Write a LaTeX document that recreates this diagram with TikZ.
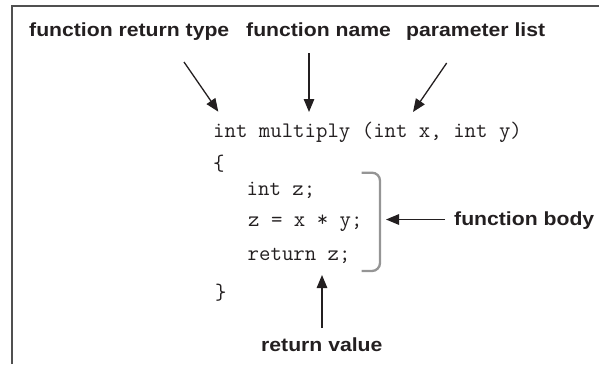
\documentclass[tikz,border=0pt]{standalone}
\usepackage{fontspec}
\setmainfont{Liberation Sans}
\usetikzlibrary{arrows.meta}
\definecolor{ink}{HTML}{231F20}
\definecolor{framegray}{HTML}{505050}
\definecolor{bracegray}{HTML}{959595}
\newcommand{\lbltext}[1]{\scalebox{1.115}[1]{#1}}
\tikzset{
  lbl/.style={inner sep=0pt, anchor=base west, text=ink,
    font=\fontsize{19}{22}\selectfont\bfseries},
  codeline/.style={inner sep=0pt, anchor=base west, text=ink,
    font=\fontsize{22.2}{26}\selectfont\ttfamily},
  pointer/.style={draw=ink, line width=1.3pt,
    -{Triangle[length=13pt,width=10.5pt]}},
  bracket/.style={draw=bracegray, line width=2.3pt, rounded corners=8pt},
  frameline/.style={draw=framegray, line width=2pt}
}
\begin{document}
\begin{tikzpicture}[x=1pt,y=-1pt]
\useasboundingbox (0,0) rectangle (599,364);

% outer frame (top and left edges)
\draw[frameline] (12,364) -- (12,5.5) -- (599,5.5);

% annotation labels
\node[lbl] (rtype) at (29,36)    {\lbltext{function return type}};
\node[lbl] (fname) at (246,36)   {\lbltext{function name}};
\node[lbl] (plist) at (406,36)   {\lbltext{parameter list}};
\node[lbl] (fbody) at (454,225)  {\lbltext{function body}};
\node[lbl] (rval)  at (261,351.5){\lbltext{return value}};

% source code
\node[codeline] (sig)    at (213,137.3) {int multiply (int x, int y)};
\node[codeline] (lbrace) at (213,170)   {\{};
\node[codeline] (body1)  at (246.5,195) {int z;};
\node[codeline] (body2)  at (248,226.7) {z = x * y;};
\node[codeline] (body3)  at (247.5,260) {return z;};
\node[codeline] (rbrace) at (215,299)   {\}};

% bracket around the body statements
\draw[bracket] (361.7,172.7) -- (380,172.7) -- (380,271) -- (361.7,271);

% arrow end points
\coordinate (rtypeFrom) at (184,62);
\coordinate (rtypeTo)   at (218.3,111.7);
\coordinate (fnameFrom) at (309,53);
\coordinate (fnameTo)   at (309,112);
\coordinate (plistFrom) at (446.7,63);
\coordinate (plistTo)   at (413,112);
\coordinate (fbodyFrom) at (445,219.5);
\coordinate (fbodyTo)   at (386,219.5);
\coordinate (rvalFrom)  at (322,328);
\coordinate (rvalTo)    at (322,275);

\draw[pointer] (rtypeFrom) -- (rtypeTo);
\draw[pointer] (fnameFrom) -- (fnameTo);
\draw[pointer] (plistFrom) -- (plistTo);
\draw[pointer] (fbodyFrom) -- (fbodyTo);
\draw[pointer] (rvalFrom)  -- (rvalTo);
\end{tikzpicture}
\end{document}
